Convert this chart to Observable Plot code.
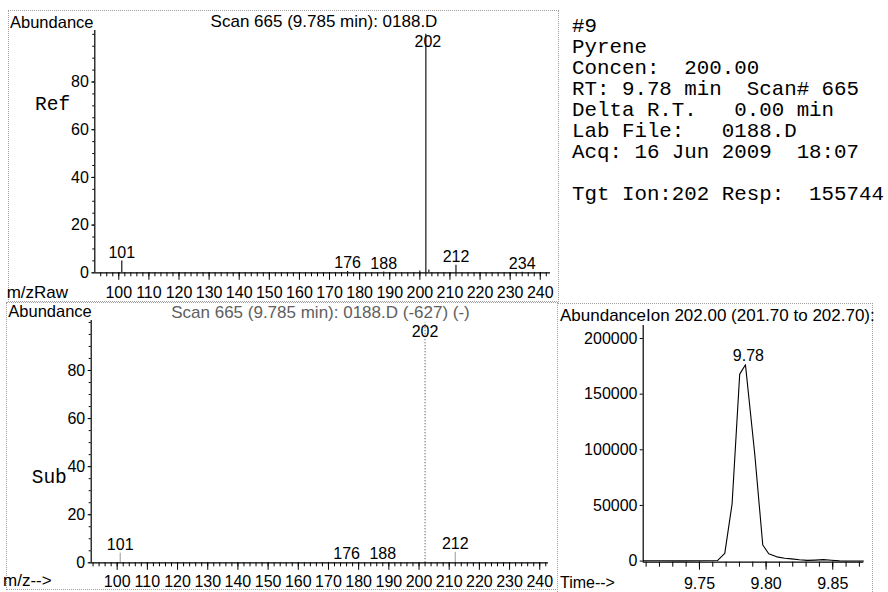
<!DOCTYPE html>
<html><head><meta charset="utf-8">
<script src="https://cdn.jsdelivr.net/npm/d3@7"></script>
<script src="https://cdn.jsdelivr.net/npm/@observablehq/plot@0.6"></script>
<style>
html,body{margin:0;padding:0;background:#fff;}
#root{position:relative;width:888px;height:592px;overflow:hidden;background:#fff;font-family:'Liberation Sans',Arial,sans-serif;color:#000;}
.t{position:absolute;white-space:pre;line-height:1;}
.box{position:absolute;border:1px dotted #a0a0a0;box-sizing:border-box;}
.plot{position:absolute;}
</style></head><body><div id="root"></div>
<script>
// ---- data ----
const refMz = [101, 176, 188, 200, 202, 203, 212, 234];
const refAbund = [5, 0.5, 0.3, 0.8, 100, 1.2, 3.2, 0.2];
const refLabeled = [101, 176, 188, 202, 212, 234];
const subMz = [101, 176, 188, 202, 212];
const subAbund = [4, 0, 0, 100, 4.3];
const subLabeled = [101, 176, 188, 202, 212];
const mzTicks = [100, 110, 120, 130, 140, 150, 160, 170, 180, 190, 200, 210, 220, 230, 240];
const abundTicks = [0, 20, 40, 60, 80];
const chromTime = [9.708, 9.720, 9.735, 9.750, 9.7635, 9.769, 9.7745, 9.7802, 9.7845, 9.7915, 9.7975, 9.802, 9.808, 9.814, 9.819, 9.825, 9.831, 9.837, 9.843, 9.849, 9.855, 9.862, 9.873];
const chromAbund = [300, 300, 200, 300, 500, 7000, 51500, 168000, 176500, 96000, 14500, 6600, 3800, 2600, 2000, 1200, 600, 900, 1300, 800, 200, 100, 100];
const chromPeakRT = "9.78";
const chromYTicks = [0, 50000, 100000, 150000, 200000];
const chromXTicks = [9.75, 9.80, 9.85];
const refTitle = "Scan 665 (9.785 min): 0188.D";
const subTitle = "Scan 665 (9.785 min): 0188.D (-627) (-)";
const chromTitle = "AbundanceIon 202.00 (201.70 to 202.70):";
const infoLines = [
  "#9",
  "Pyrene",
  "Concen:  200.00",
  "RT: 9.78 min  Scan# 665",
  "Delta R.T.   0.00 min",
  "Lab File:   0188.D",
  "Acq: 16 Jun 2009  18:07",
  "",
  "Tgt Ion:202 Resp:  155744"
];

// ---- layout helpers ----
const root = document.getElementById("root");
const SANS = "'Liberation Sans', Arial, sans-serif";
const MONO = "'Liberation Mono', 'Courier New', monospace";
function place(str, x, y, o = {}) {
  const fs = o.size || 16.5;
  const el = document.createElement("div");
  el.className = "t";
  el.textContent = str;
  el.style.fontSize = fs + "px";
  el.style.fontFamily = o.mono ? MONO : SANS;
  el.style.color = o.color || "#000";
  el.style.top = (y - (o.mono ? 0.437 : 0.4885) * fs) + "px";
  el.style.left = x + "px";
  if (o.center) el.style.transform = "translateX(-50%)";
  root.appendChild(el);
  return el;
}
function addPlot(svg, left, top) {
  svg.classList.add("plot");
  svg.style.left = left + "px";
  svg.style.top = top + "px";
  root.appendChild(svg);
}
const style = {fontFamily: SANS, fontSize: "16px", color: "#000", background: "transparent", overflow: "visible"};

// ---- Ref spectrum (top) ----
const refData = refMz.map((m, i) => ({mz: m, a: refAbund[i]}));
const refLab = refData.filter(d => refLabeled.includes(d.mz));
const topX = [92.03, 243.4], topY = [0, 101.6];
addPlot(Plot.plot({
  width: 560, height: 300, marginLeft: 94.3, marginRight: 10, marginTop: 30, marginBottom: 27.7,
  x: {domain: topX}, y: {domain: topY}, style,
  marks: [
    Plot.ruleX(refData, {x: "mz", y1: 0, y2: "a", stroke: "#000", strokeWidth: 1.1}),
    Plot.ruleX([topX[0]], {stroke: "#000", strokeWidth: 1.2}),
    Plot.ruleY([0], {stroke: "#000", strokeWidth: 1.2}),
    Plot.axisX(mzTicks, {tickSize: 7.5, tickPadding: 6, tickFormat: d => String(d), label: null, fontSize: 16}),
    Plot.axisX(d3.range(94, 244, 2), {tickSize: 4, tickFormat: () => "", label: null}),
    Plot.axisY(abundTicks, {tickSize: 3, tickPadding: 3, label: null, fontSize: 16}),
    Plot.axisY(d3.range(0, 101, 5), {tickSize: 2, tickFormat: () => "", label: null}),
    Plot.text(refLab.filter(d => d.a < 50), {x: "mz", y: "a", text: d => String(d.mz), dy: -8.5, fontSize: 16}),
    Plot.text(refLab.filter(d => d.a >= 50), {x: "mz", y: "a", text: d => String(d.mz), dy: 8, dx: 2, fontSize: 16})
  ]
}), 0, 0);

// ---- Sub spectrum (bottom) ----
const subData = subMz.map((m, i) => ({mz: m, a: subAbund[i]}));
const subLab = subData.filter(d => subLabeled.includes(d.mz));
const botX = [91.39, 242.9], botY = [0, 100.8];
addPlot(Plot.plot({
  width: 560, height: 292, marginLeft: 90.7, marginRight: 12, marginTop: 20, marginBottom: 29.7,
  x: {domain: botX}, y: {domain: botY}, style,
  marks: [
    Plot.ruleX(subData.filter(d => d.a < 50), {x: "mz", y1: 0, y2: "a", stroke: "#9a9a9a", strokeWidth: 1}),
    Plot.ruleX(subData.filter(d => d.a >= 50), {x: "mz", y1: 0, y2: "a", stroke: "#666", strokeWidth: 1, strokeDasharray: "1.3,1.7"}),
    Plot.ruleX([botX[0]], {stroke: "#000", strokeWidth: 1.2}),
    Plot.ruleY([0], {stroke: "#000", strokeWidth: 1.2}),
    Plot.axisX(mzTicks, {tickSize: 7.5, tickPadding: 5, tickFormat: d => String(d), label: null, fontSize: 16}),
    Plot.axisX(d3.range(92, 243, 2), {tickSize: 4, tickFormat: () => "", label: null}),
    Plot.axisY(abundTicks, {tickSize: 3, tickPadding: 3, label: null, fontSize: 16}),
    Plot.axisY(d3.range(0, 101, 5), {tickSize: 2, tickFormat: () => "", label: null}),
    Plot.text(subLab.filter(d => d.a < 50), {x: "mz", y: "a", text: d => String(d.mz), dy: -8.5, fontSize: 16}),
    Plot.text(subLab.filter(d => d.a >= 50), {x: "mz", y: "a", text: d => String(d.mz), dy: 9.5, fontSize: 16})
  ]
}), 0, 300);

// ---- Ion chromatogram (bottom right) ----
const chromData = chromTime.map((t, i) => ({t, a: chromAbund[i]}));
const apex = chromData.reduce((m, d) => d.a > m.a ? d : m);
const chX = [9.7078, 9.8733], chY = [-1000, 211700];
addPlot(Plot.plot({
  width: 338, height: 292, marginLeft: 92.7, marginRight: 24.7, marginTop: 25, marginBottom: 30.3,
  x: {domain: chX}, y: {domain: chY}, style,
  marks: [
    Plot.ruleX([chX[0]], {stroke: "#000", strokeWidth: 1.2}),
    Plot.ruleY([chY[0]], {stroke: "#000", strokeWidth: 1.2}),
    Plot.axisX(chromXTicks, {tickSize: 8, tickPadding: 7, tickFormat: d3.format(".2f"), label: null, fontSize: 16}),
    Plot.axisX(d3.range(971, 988).map(i => i / 100), {tickSize: 5, tickFormat: () => "", label: null}),
    Plot.axisY(chromYTicks, {tickSize: 3, tickPadding: 2.7, tickFormat: d => String(d), label: null, fontSize: 16}),
    Plot.lineY(chromData, {x: "t", y: "a", stroke: "#000", strokeWidth: 1.1}),
    Plot.text([apex], {x: "t", y: "a", text: () => chromPeakRT, dy: -9, dx: 3, fontSize: 16})
  ]
}), 550, 300);

// ---- panel frames ----
function box(l, t, r, b) {
  const el = document.createElement("div");
  el.className = "box";
  Object.assign(el.style, {left: l + "px", top: t + "px", width: (r - l) + "px", height: (b - t) + "px"});
  root.appendChild(el);
}
box(8, 10, 559, 302);
box(6, 302, 558, 590);
box(557, 303, 873, 600);

// ---- texts ----
place("Abundance", 10, 21.7);
place(refTitle, 324, 21.7, {size: 17, center: true});
place("Ref", 35, 105, {mono: true, size: 19.5});
place("m/zRaw", 6.7, 292, {size: 17});
place("Abundance", 8.3, 310.7);
place(subTitle, 320.5, 312, {size: 17, center: true, color: "#606060"});
place("Sub", 31.7, 478, {mono: true, size: 19.5});
place("m/z-->", 3, 580.5, {size: 17});
place(chromTitle, 560, 315, {size: 17});
place("Time-->", 560, 582.5, {size: 16});

const info = document.createElement("div");
info.className = "t";
Object.assign(info.style, {left: "572px", top: "15.8px", fontFamily: MONO, fontSize: "20.8px", lineHeight: "21.05px"});
info.textContent = infoLines.join("\n");
root.appendChild(info);
</script></body></html>
